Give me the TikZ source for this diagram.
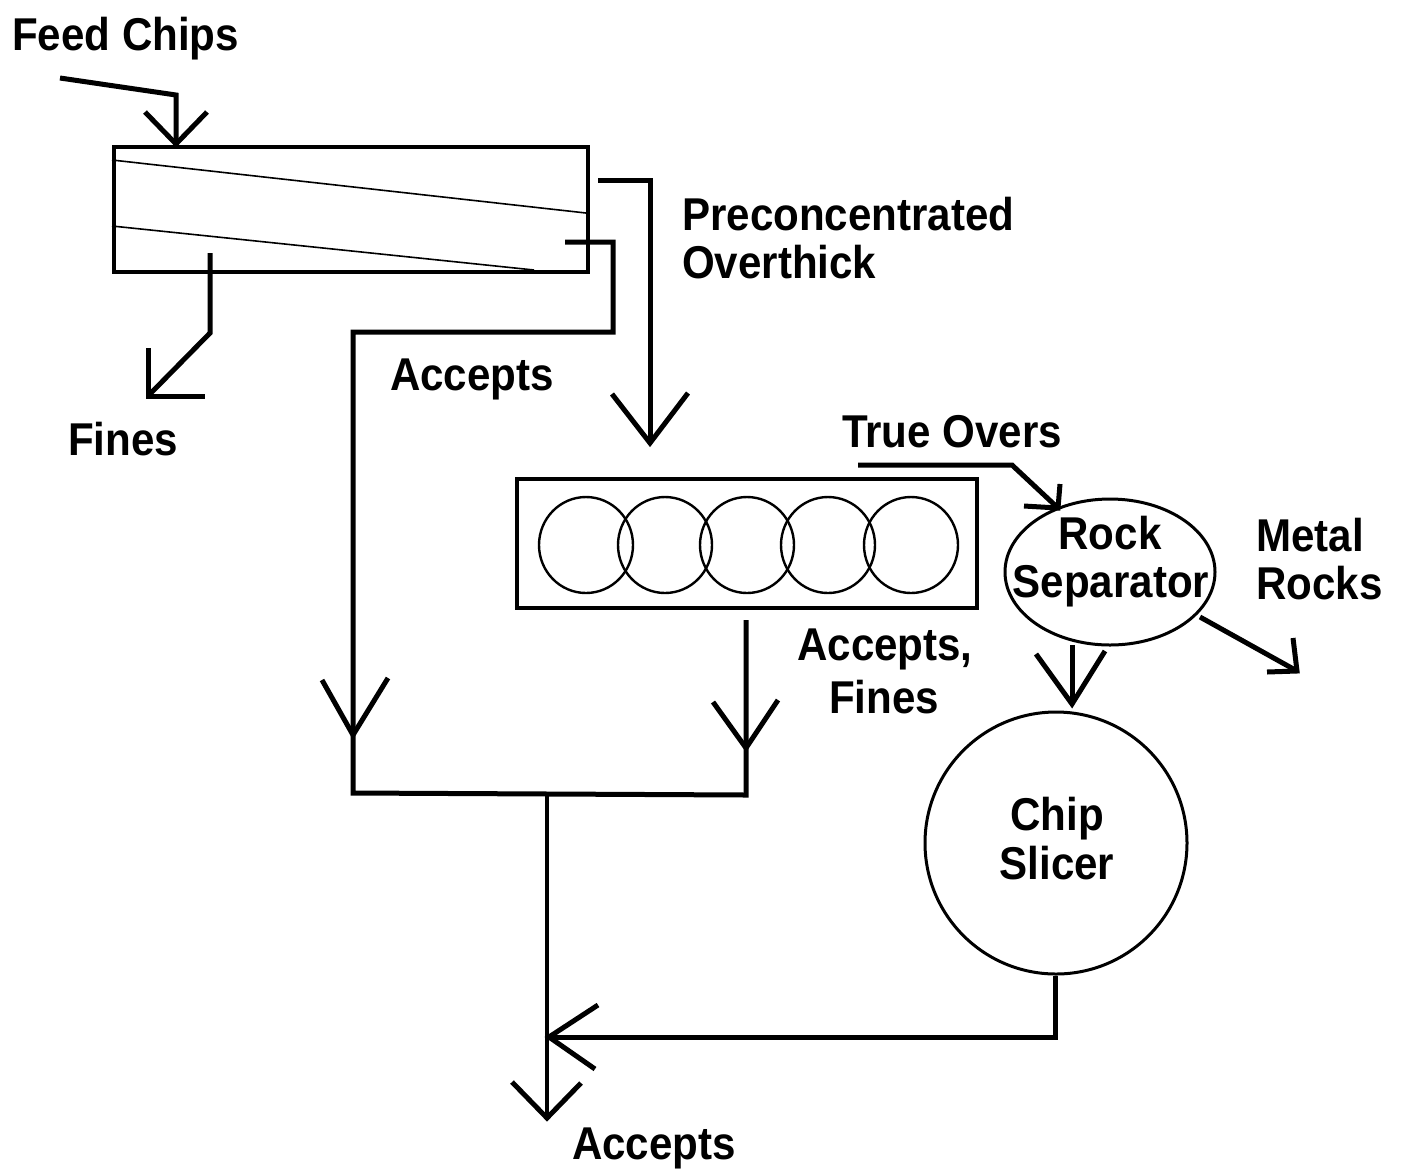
\documentclass[tikz,border=0pt]{standalone}
\usepackage{fontspec}
\newfontfamily\lab{Liberation Sans}[FakeStretch=0.915]
\usetikzlibrary{shapes.geometric}
\begin{document}
\begin{tikzpicture}[x=1pt,y=-1pt,
  flow/.style={line width=5pt, line join=miter},
  thinline/.style={line width=1.6pt},
  boxline/.style={line width=3.5pt},
  lbl/.style={font=\lab\bfseries\fontsize{46}{50}\selectfont, inner sep=0pt}]
\useasboundingbox[fill=white] (0,0) rectangle (1405,1171);

% ---- equipment ----
\node[draw, boxline, rectangle, inner sep=0pt, minimum width=474pt, minimum height=125pt, anchor=north west] (screen) at (112,145) {};
\draw[thinline] (112,160) -- (586,213);
\draw[thinline] (112,226) -- (534,270);

\node[draw, boxline, rectangle, inner sep=0pt, minimum width=460pt, minimum height=129pt] (rollers) at (747,543.5) {};
\foreach \i/\cx in {1/586, 2/665, 3/747, 4/828, 5/911}
  \node[draw, line width=2.4pt, ellipse, inner sep=0pt, minimum width=94pt, minimum height=96pt] (roll\i) at (\cx,545) {};

\node[draw, line width=3pt, ellipse, inner sep=0pt, minimum width=210pt, minimum height=146pt] (rock) at (1110,572) {};
\node[draw, line width=3pt, circle, inner sep=0pt, minimum size=262pt] (slicer) at (1056,843) {};

% ---- labels ----
\node[lbl, anchor=base west] (tfeed) at (12,50) {Feed Chips};
\node[lbl, anchor=base west] (tpre1) at (682,230) {Preconcentrated};
\node[lbl, anchor=base west] (tpre2) at (682,278) {Overthick};
\node[lbl, anchor=base west] (tacc1) at (390,390) {Accepts};
\node[lbl, anchor=base west] (tfines) at (68,455) {Fines};
\node[lbl, anchor=base west] (ttrue) at (842,447) {True Overs};
\node[lbl, anchor=base] (trock1) at (1110,549) {Rock};
\node[lbl, anchor=base] (trock2) at (1111,597) {Separator};
\node[lbl, anchor=base west] (tmetal1) at (1256,551) {Metal};
\node[lbl, anchor=base west] (tmetal2) at (1256,599) {Rocks};
\node[lbl, anchor=base west] (tacf1) at (797,660) {Accepts,};
\node[lbl, anchor=base west] (tacf2) at (829,713) {Fines};
\node[lbl, anchor=base] (tchip1) at (1057,830) {Chip};
\node[lbl, anchor=base] (tchip2) at (1057,879) {Slicer};
\node[lbl, anchor=base west] (tacc2) at (572,1159) {Accepts};

% ---- connectors ----
% feed chips
\coordinate (feedA) at (60,78);
\coordinate (feedB) at (176,95);
\draw[flow] (feedA) -- (feedB) -- (feedB |- screen.north);
\draw[flow] (145,112) -- (176,144) -- (207,112);

% fines
\coordinate (finA) at (210,253);
\coordinate (finB) at (210,333);
\coordinate (finC) at (148,396);
\draw[flow] (finA) -- (finB) -- (finC);
\draw[flow] (148,348) -- (finC) -- (205,396);

% preconcentrated overthick
\coordinate (ovA) at (598,180);
\coordinate (ovB) at (650,180);
\coordinate (ovC) at (650,443);
\draw[flow] (ovA) -- (ovB) -- (ovC);
\draw[flow] (612,394) -- (ovC) -- (688,393);

% accepts from screen
\coordinate (acA) at (565,242);
\coordinate (acB) at (613,242);
\coordinate (acC) at (613,332);
\coordinate (acD) at (353,332);
\coordinate (acE) at (353,793);
\coordinate (acF) at (746,795);
\coordinate (rolOut) at (746,620);
\draw[flow] (acA) -- (acB) -- (acC) -- (acD) -- (acE) -- (acF) -- (rolOut);
\draw[flow] (322,680) -- (353,735) -- (388,678);
\draw[flow] (713,702) -- (746,748) -- (778,700);

% combined accepts
\coordinate (jn) at (547,794);
\coordinate (accEnd) at (547,1118);
\draw[line width=4.5pt] (jn) -- (accEnd);
\draw[flow] (512,1082) -- (accEnd) -- (581,1083);

% chip slicer return
\coordinate (slB) at (1055,1037);
\coordinate (slC) at (549,1037);
\draw[flow] (slicer.south -| slB) -- (slB) -- (slC);
\draw[flow] (598,1005) -- (slC) -- (595,1069);

% true overs
\coordinate (toA) at (858,465);
\coordinate (toB) at (1012,465);
\coordinate (toC) at (1058,508);
\draw[flow] (toA) -- (toB) -- (toC);
\draw[flow] (1060,484) -- (toC) -- (1024,506);

% rock separator -> chip slicer
\coordinate (rkA) at (1072,645);
\coordinate (rkB) at (1072,704);
\draw[flow] (rkA) -- (rkB);
\draw[flow] (1036,654) -- (rkB) -- (1105,651);

% metal rocks
\coordinate (mrA) at (1200,617);
\coordinate (mrB) at (1297,671);
\draw[flow] (mrA) -- (mrB);
\draw[flow] (1293,638) -- (mrB) -- (1267,672);
\end{tikzpicture}
\end{document}
